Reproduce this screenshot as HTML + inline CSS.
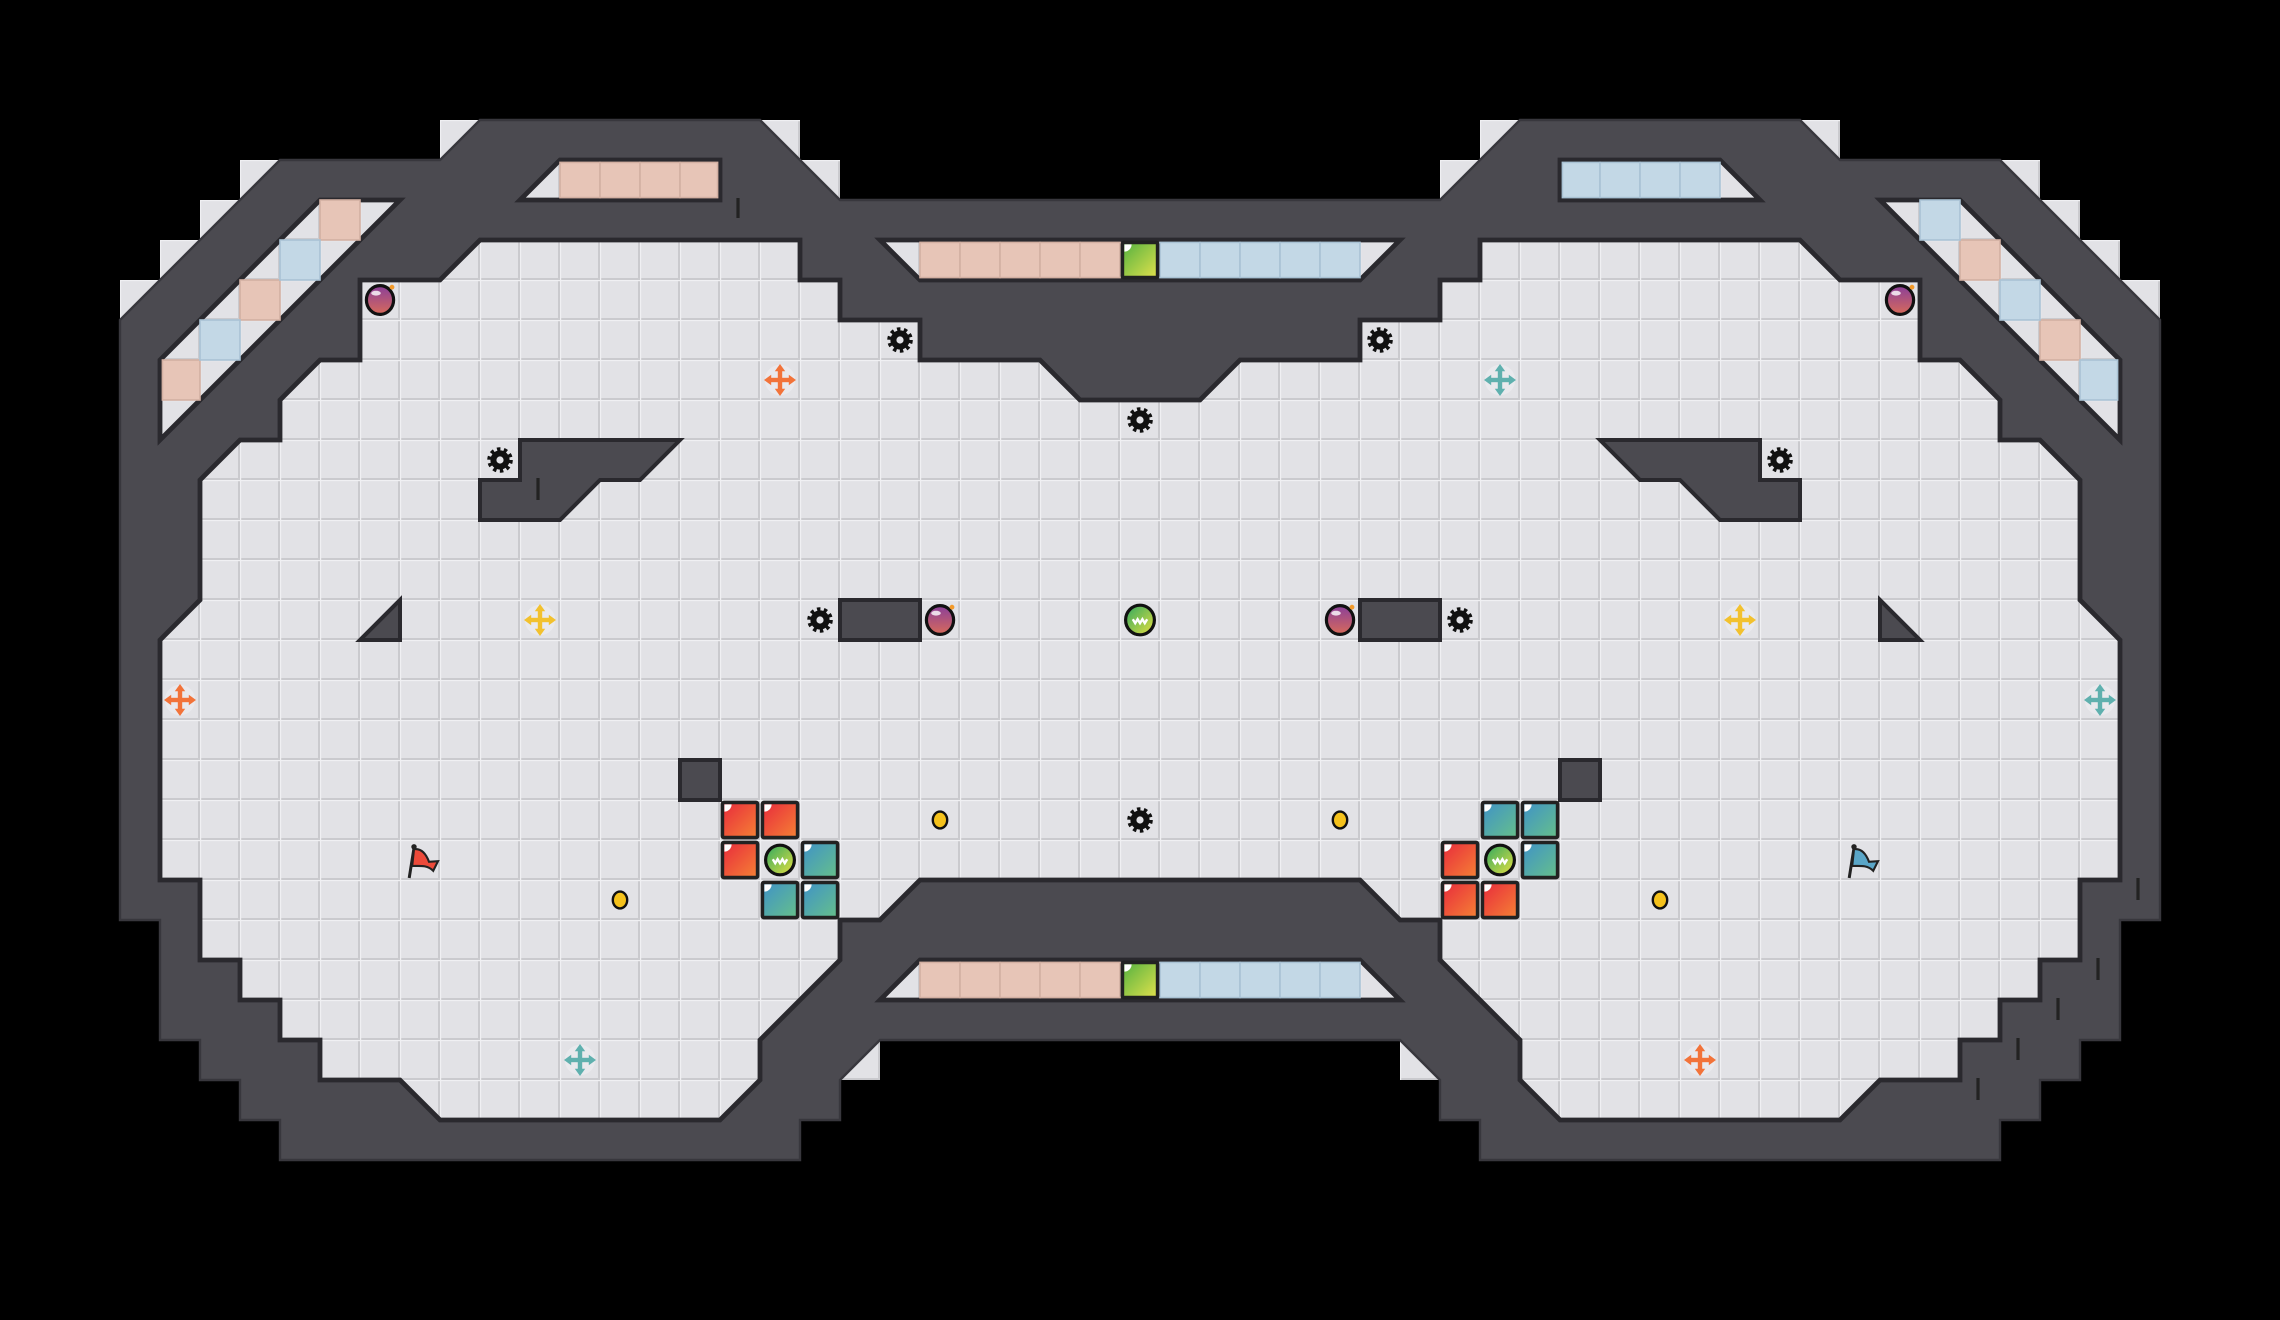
<!DOCTYPE html>
<html><head><meta charset="utf-8"><style>
html,body{margin:0;padding:0;background:#000;width:2280px;height:1320px;overflow:hidden}
svg{display:block}
</style></head><body>
<svg width="2280" height="1320" viewBox="-3 -3 57 33" xmlns="http://www.w3.org/2000/svg">
<defs>
<pattern id="tile" patternUnits="userSpaceOnUse" x="0" y="0" width="1" height="1">
<rect width="1" height="1" fill="#e2e2e6"/>
<rect x="0" y="0.95" width="1" height="0.05" fill="#cacace"/>
<rect x="0.95" y="0" width="0.05" height="1" fill="#cacace"/>
<rect x="0" y="0" width="1" height="0.03" fill="#f0f0f3"/>
<rect x="0" y="0" width="0.03" height="1" fill="#f0f0f3"/>
</pattern>
<linearGradient id="gRed" x1="0" y1="0" x2="1" y2="1"><stop offset="0" stop-color="#e82a3c"/><stop offset="1" stop-color="#f58235"/></linearGradient>
<linearGradient id="gTeal" x1="0" y1="0" x2="1" y2="1"><stop offset="0" stop-color="#3f92c8"/><stop offset="1" stop-color="#66c08a"/></linearGradient>
<linearGradient id="gGreen" x1="0" y1="0" x2="1" y2="1"><stop offset="0" stop-color="#52b040"/><stop offset="1" stop-color="#e2e24c"/></linearGradient>
<linearGradient id="gBall" x1="0" y1="0" x2="1" y2="1"><stop offset="0" stop-color="#2fa860"/><stop offset="1" stop-color="#e6e040"/></linearGradient>
<linearGradient id="gBomb" x1="0" y1="0" x2="0" y2="1"><stop offset="0" stop-color="#8a3f9a"/><stop offset="1" stop-color="#d86a5a"/></linearGradient>
<g id="gear"><circle r="0.27" fill="none" stroke="#111" stroke-width="0.1" stroke-dasharray="0.085 0.085"/><circle r="0.24" fill="#111"/><circle r="0.09" fill="#e2e2e6"/></g>
<g id="bomb"><ellipse rx="0.34" ry="0.36" fill="url(#gBomb)" stroke="#111" stroke-width="0.08"/><ellipse cx="-0.1" cy="-0.17" rx="0.12" ry="0.06" fill="#fff" opacity="0.8"/><circle cx="0.3" cy="-0.32" r="0.06" fill="#f39a2a"/></g>
<g id="cross"><circle r="0.38" fill="#ececef" opacity="0.7"/><rect x="-0.055" y="-0.24" width="0.11" height="0.48"/><rect x="-0.24" y="-0.055" width="0.48" height="0.11"/><polygon points="0,-0.4 0.13,-0.22 -0.13,-0.22"/><polygon points="0,0.4 0.13,0.22 -0.13,0.22"/><polygon points="-0.4,0 -0.22,0.13 -0.22,-0.13"/><polygon points="0.4,0 0.22,0.13 0.22,-0.13"/></g>
<g id="ball"><ellipse rx="0.36" ry="0.37" fill="url(#gBall)" stroke="#111" stroke-width="0.08"/><path d="M-0.18,-0.02 l0.06,0.1 l0.06,-0.1 l0.06,0.1 l0.06,-0.1 l0.06,0.1 l0.06,-0.1" fill="none" stroke="#fff" stroke-width="0.06"/></g>
<g id="coin"><ellipse rx="0.18" ry="0.21" fill="#f5c21c" stroke="#111" stroke-width="0.06"/></g>
<g id="blk"><rect x="0.06" y="0.06" width="0.88" height="0.88" rx="0.04" stroke="#222" stroke-width="0.09"/><path d="M0.11,0.11 h0.18 a0.18,0.18 0 0 1 -0.18,0.18z" fill="#fff"/></g>
<g id="flag"><g transform="scale(1.5)"><line x1="-0.18" y1="0.3" x2="-0.1" y2="-0.2" stroke="#222" stroke-width="0.05"/><circle cx="-0.1" cy="-0.22" r="0.045" fill="#222"/><path d="M-0.1,-0.18 C0.05,-0.2 0.12,-0.05 0.15,0.03 L0.3,0.02 L0.22,0.18 C0.12,0.08 0,0.1 -0.13,0.1 Z" stroke="#222" stroke-width="0.035"/></g></g>
</defs>

<g fill="url(#tile)">
<rect x="8" y="0" width="1" height="1"/><rect x="3" y="1" width="1" height="1"/><rect x="2" y="2" width="1" height="1"/><rect x="1" y="3" width="1" height="1"/><rect x="0" y="4" width="1" height="1"/>
<rect x="16" y="0" width="1" height="1"/><rect x="17" y="1" width="1" height="1"/>
<rect x="34" y="0" width="1" height="1"/><rect x="33" y="1" width="1" height="1"/>
<rect x="42" y="0" width="1" height="1"/><rect x="47" y="1" width="1" height="1"/><rect x="48" y="2" width="1" height="1"/><rect x="49" y="3" width="1" height="1"/><rect x="50" y="4" width="1" height="1"/>
<rect x="18" y="23" width="1" height="1"/><rect x="32" y="23" width="1" height="1"/>
</g>
<g fill="#000">
<polygon points="18,23 19,23 18,24"/><polygon points="32,23 33,23 33,24"/>
</g>

<polygon fill="#4b4a50" stroke="#38373d" stroke-width="0.06" points="9,0 16,0 18,2 33,2 35,0 42,0 43,1 47,1 51,5 51,20 50,20 50,23 49,23 49,24 48,24 48,25 47,25 47,26 34,26 34,25 33,25 33,24 32,23 19,23 18,24 18,25 17,25 17,26 4,26 4,25 3,25 3,24 2,24 2,23 1,23 1,20 0,20 0,5 4,1 8,1"/>

<polygon fill="url(#tile)" stroke="#2a292e" stroke-width="0.12" stroke-linejoin="miter" points="9,3 17,3 17,4 18,4 18,5 20,5 20,6 23,6 24,7 27,7 28,6 31,6 31,5 33,5 33,4 34,4 34,3 42,3 43,4 45,4 45,6 46,6 47,7 47,8 48,8 49,9 49,12 50,13 50,19 49,19 49,21 48,21 48,22 47,22 47,23 46,23 46,24 44,24 43,25 36,25 35,24 35,23 33,21 33,20 32,20 31,19 20,19 19,20 18,20 18,21 16,23 16,24 15,25 8,25 7,24 5,24 5,23 4,23 4,22 3,22 3,21 2,21 2,19 1,19 1,13 2,12 2,9 3,8 4,8 4,7 5,6 6,6 6,4 8,4"/>

<g fill="url(#tile)" stroke="#2a292e" stroke-width="0.12">
<polygon points="19,3 32,3 31,4 20,4"/>
<polygon points="20,21 31,21 32,22 19,22"/>
<polygon points="11,1 15,1 15,2 10,2"/>
<polygon points="36,1 40,1 41,2 36,2"/>
<polygon points="5,2 7,2 1,8 1,6"/>
<polygon points="46,2 44,2 50,8 50,6"/>
</g>
<g stroke="#d3b0a2" stroke-width="0.04" fill="#e7c5b7">
<rect x="20" y="3.06" width="1" height="0.88"/><rect x="21" y="3.06" width="1" height="0.88"/><rect x="22" y="3.06" width="1" height="0.88"/><rect x="23" y="3.06" width="1" height="0.88"/><rect x="24" y="3.06" width="1" height="0.88"/>
<rect x="20" y="21.06" width="1" height="0.88"/><rect x="21" y="21.06" width="1" height="0.88"/><rect x="22" y="21.06" width="1" height="0.88"/><rect x="23" y="21.06" width="1" height="0.88"/><rect x="24" y="21.06" width="1" height="0.88"/>
<rect x="11" y="1.06" width="1" height="0.88"/><rect x="12" y="1.06" width="1" height="0.88"/><rect x="13" y="1.06" width="1" height="0.88"/><rect x="14" y="1.06" width="0.94" height="0.88"/>
<rect x="5" y="2" width="1" height="1"/><rect x="3" y="4" width="1" height="1"/><rect x="1.06" y="6" width="0.94" height="1"/>
<rect x="46" y="3" width="1" height="1"/><rect x="48" y="5" width="1" height="1"/>
</g>
<g stroke="#a9c2d4" stroke-width="0.04" fill="#c3d8e6">
<rect x="26" y="3.06" width="1" height="0.88"/><rect x="27" y="3.06" width="1" height="0.88"/><rect x="28" y="3.06" width="1" height="0.88"/><rect x="29" y="3.06" width="1" height="0.88"/><rect x="30" y="3.06" width="1" height="0.88"/>
<rect x="26" y="21.06" width="1" height="0.88"/><rect x="27" y="21.06" width="1" height="0.88"/><rect x="28" y="21.06" width="1" height="0.88"/><rect x="29" y="21.06" width="1" height="0.88"/><rect x="30" y="21.06" width="1" height="0.88"/>
<rect x="36.06" y="1.06" width="0.94" height="0.88"/><rect x="37" y="1.06" width="1" height="0.88"/><rect x="38" y="1.06" width="1" height="0.88"/><rect x="39" y="1.06" width="1" height="0.88"/>
<rect x="4" y="3" width="1" height="1"/><rect x="2" y="5" width="1" height="1"/>
<rect x="45" y="2" width="1" height="1"/><rect x="47" y="4" width="1" height="1"/><rect x="49" y="6" width="0.94" height="1"/>
</g>
<use href="#blk" x="25" y="3" fill="url(#gGreen)"/>
<use href="#blk" x="25" y="21" fill="url(#gGreen)"/>

<g fill="#4b4a50" stroke="#2a292e" stroke-width="0.1">
<polygon points="10,8 14,8 13,9 12,9 11,10 9,10 9,9 10,9"/>
<polygon points="41,8 37,8 38,9 39,9 40,10 42,10 42,9 41,9"/>
<polygon points="7,12 7,13 6,13"/>
<polygon points="44,12 44,13 45,13"/>
<rect x="18" y="12" width="2" height="1"/>
<rect x="31" y="12" width="2" height="1"/>
<rect x="14" y="16" width="1" height="1"/>
<rect x="36" y="16" width="1" height="1"/>
</g>
<g stroke="#222" stroke-width="0.08">
<line x1="15.45" y1="1.95" x2="15.45" y2="2.45"/>
<line x1="10.45" y1="8.95" x2="10.45" y2="9.5"/>
<line x1="50.45" y1="18.95" x2="50.45" y2="19.5"/>
<line x1="49.45" y1="20.95" x2="49.45" y2="21.5"/>
<line x1="48.45" y1="21.95" x2="48.45" y2="22.5"/>
<line x1="47.45" y1="22.95" x2="47.45" y2="23.5"/>
<line x1="46.45" y1="23.95" x2="46.45" y2="24.5"/>
</g>

<use href="#bomb" x="6.5" y="4.5"/><use href="#bomb" x="44.5" y="4.5"/><use href="#bomb" x="20.5" y="12.5"/><use href="#bomb" x="30.5" y="12.5"/>
<use href="#gear" x="19.5" y="5.5"/><use href="#gear" x="31.5" y="5.5"/><use href="#gear" x="25.5" y="7.5"/><use href="#gear" x="9.5" y="8.5"/><use href="#gear" x="41.5" y="8.5"/><use href="#gear" x="17.5" y="12.5"/><use href="#gear" x="33.5" y="12.5"/><use href="#gear" x="25.5" y="17.5"/>
<use href="#cross" x="16.5" y="6.5" fill="#f2733a"/><use href="#cross" x="1.5" y="14.5" fill="#f2733a"/><use href="#cross" x="39.5" y="23.5" fill="#f2733a"/>
<use href="#cross" x="34.5" y="6.5" fill="#5fb0ae"/><use href="#cross" x="49.5" y="14.5" fill="#5fb0ae"/><use href="#cross" x="11.5" y="23.5" fill="#5fb0ae"/>
<use href="#cross" x="10.5" y="12.5" fill="#f2c12e"/><use href="#cross" x="40.5" y="12.5" fill="#f2c12e"/>
<use href="#ball" x="25.5" y="12.5"/><use href="#ball" x="16.5" y="18.5"/><use href="#ball" x="34.5" y="18.5"/>
<use href="#coin" x="20.5" y="17.5"/><use href="#coin" x="30.5" y="17.5"/><use href="#coin" x="12.5" y="19.5"/><use href="#coin" x="38.5" y="19.5"/>
<use href="#flag" x="7.5" y="18.5" fill="#ec4a3a"/><use href="#flag" x="43.5" y="18.5" fill="#5aa6c8"/>
<use href="#blk" x="15" y="17" fill="url(#gRed)"/><use href="#blk" x="16" y="17" fill="url(#gRed)"/><use href="#blk" x="15" y="18" fill="url(#gRed)"/>
<use href="#blk" x="17" y="18" fill="url(#gTeal)"/><use href="#blk" x="16" y="19" fill="url(#gTeal)"/><use href="#blk" x="17" y="19" fill="url(#gTeal)"/>
<use href="#blk" x="34" y="17" fill="url(#gTeal)"/><use href="#blk" x="35" y="17" fill="url(#gTeal)"/><use href="#blk" x="35" y="18" fill="url(#gTeal)"/>
<use href="#blk" x="33" y="18" fill="url(#gRed)"/><use href="#blk" x="33" y="19" fill="url(#gRed)"/><use href="#blk" x="34" y="19" fill="url(#gRed)"/>
</svg>
</body></html>
